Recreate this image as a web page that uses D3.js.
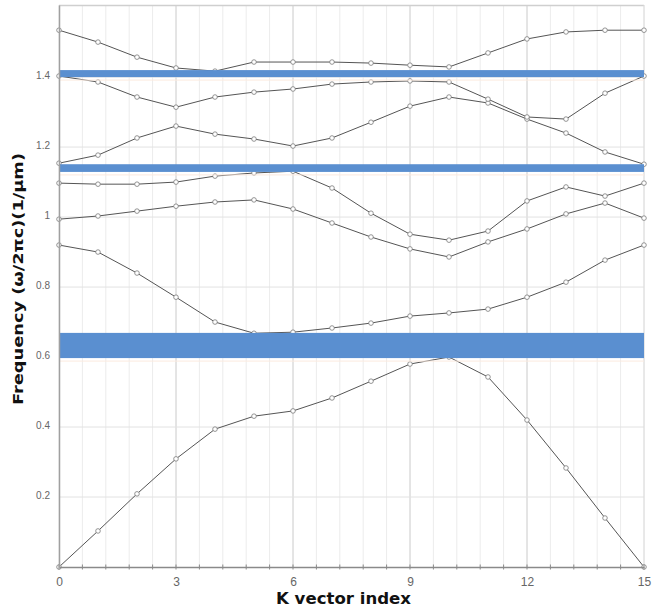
<!DOCTYPE html>
<html>
<head>
<meta charset="utf-8">
<script src="https://cdn.jsdelivr.net/npm/d3@7"></script>
<style>
  body { margin: 0; background: #fff; }
  svg { display: block; }
</style>
</head>
<body>
<div class="chart"></div>
<script>
// k vector index along the path
const kIndex = [0, 1, 2, 3, 4, 5, 6, 7, 8, 9, 10, 11, 12, 13, 14, 15];

// photonic bands, frequency (w/2pi c)(1/um)
const band1 = [0, 0.103, 0.209, 0.309, 0.394, 0.431, 0.446, 0.483, 0.531, 0.58, 0.60, 0.543, 0.42, 0.283, 0.14, 0];
const band2 = [0.92, 0.90, 0.84, 0.771, 0.70, 0.668, 0.671, 0.683, 0.697, 0.717, 0.726, 0.737, 0.771, 0.814, 0.877, 0.92];
const band3 = [0.994, 1.003, 1.017, 1.031, 1.043, 1.049, 1.023, 0.983, 0.943, 0.909, 0.886, 0.929, 0.966, 1.009, 1.04, 0.997];
const band4 = [1.097, 1.094, 1.094, 1.1, 1.117, 1.126, 1.131, 1.083, 1.011, 0.951, 0.934, 0.96, 1.046, 1.086, 1.06, 1.097];
const band5 = [1.154, 1.177, 1.226, 1.26, 1.237, 1.223, 1.203, 1.226, 1.271, 1.317, 1.343, 1.326, 1.28, 1.24, 1.186, 1.151];
const band6 = [1.403, 1.386, 1.343, 1.314, 1.343, 1.357, 1.366, 1.38, 1.386, 1.389, 1.386, 1.337, 1.286, 1.28, 1.354, 1.403];
const band7 = [1.534, 1.5, 1.457, 1.426, 1.417, 1.443, 1.443, 1.443, 1.44, 1.434, 1.429, 1.469, 1.509, 1.529, 1.534, 1.534];

// band gaps (blue strips)
const gapBottom = [0.597, 1.129, 1.40];
const gapTop = [0.669, 1.151, 1.42];

const xTicks = [0, 3, 6, 9, 12, 15];
const yTicks = [0.2, 0.4, 0.6, 0.8, 1, 1.2, 1.4];

const bands = [band1, band2, band3, band4, band5, band6, band7];

const margin = ({top: 5, right: 18, bottom: 49, left: 59});
const width = 662 - margin.left - margin.right, height = 616 - margin.top - margin.bottom;

var svg = d3.select('.chart')
            .append('svg')
            .attr('width', width + margin.left + margin.right)
            .attr('height', height + margin.top + margin.bottom)
            .append('g')
            .attr('transform', 'translate(' + margin.left + ',' + margin.top + ')');

const xScale = d3.scaleLinear()
                 .domain([0, 15])
                 .range([0, width]);

const yScale = d3.scaleLinear()
                 .domain([0, 1.606])
                 .range([height, 0]);

// minor vertical grid every 0.6
const minorX = d3.range(0, 26).map(i => i * 0.6);

svg.append('g')
   .selectAll('line')
   .data(minorX)
   .enter()
   .append('line')
   .attr('x1', d => xScale(d)).attr('x2', d => xScale(d))
   .attr('y1', 0).attr('y2', height)
   .attr('stroke', '#ececec')
   .attr('stroke-width', 1);

svg.append('g')
   .selectAll('line')
   .data(xTicks.slice(1, -1))
   .enter()
   .append('line')
   .attr('x1', d => xScale(d)).attr('x2', d => xScale(d))
   .attr('y1', 0).attr('y2', height)
   .attr('stroke', '#d4d4d4')
   .attr('stroke-width', 1);

svg.append('g')
   .selectAll('line')
   .data(yTicks)
   .enter()
   .append('line')
   .attr('x1', 0).attr('x2', width)
   .attr('y1', d => yScale(d)).attr('y2', d => yScale(d))
   .attr('stroke', '#e2e2e2')
   .attr('stroke-width', 1);

// frame top / right
svg.append('line').attr('x1', 0).attr('x2', width).attr('y1', 0.5).attr('y2', 0.5)
   .attr('stroke', '#cfcfcf').attr('stroke-width', 1.5);
svg.append('line').attr('x1', width).attr('x2', width).attr('y1', 0).attr('y2', height)
   .attr('stroke', '#dcdcdc');

// band lines
const line = d3.line()
               .x((d, i) => xScale(kIndex[i]))
               .y(d => yScale(d));

svg.append('g')
   .selectAll('path')
   .data(bands)
   .enter()
   .append('path')
   .attr('d', line)
   .attr('fill', 'none')
   .attr('stroke', '#555')
   .attr('stroke-width', 1);

bands.forEach(b => {
    svg.append('g')
       .selectAll('circle')
       .data(b)
       .enter()
       .append('circle')
       .attr('cx', (d, i) => xScale(kIndex[i]))
       .attr('cy', d => yScale(d))
       .attr('r', 2.3)
       .attr('fill', '#fff')
       .attr('stroke', '#7a7a7a')
       .attr('stroke-width', 0.8);
});

// gap strips, drawn over the bands
svg.append('g')
   .selectAll('line')
   .data(gapBottom)
   .enter()
   .append('line')
   .attr('x1', 0).attr('x2', width)
   .attr('y1', d => yScale(d) + 3).attr('y2', d => yScale(d) + 3)
   .attr('stroke', '#fbeadf')
   .attr('stroke-width', 1);

svg.append('g')
   .selectAll('rect')
   .data(gapBottom)
   .enter()
   .append('rect')
   .attr('x', 0)
   .attr('width', width)
   .attr('y', (d, i) => yScale(gapTop[i]))
   .attr('height', (d, i) => yScale(d) - yScale(gapTop[i]))
   .attr('fill', '#5a8fd0');

// axes
const xAxis = d3.axisBottom(xScale)
                .tickValues(xTicks)
                .tickSize(0)
                .tickPadding(10)
                .tickFormat(d => String(d));

const gx = svg.append('g')
              .attr('transform', `translate(0, ${height})`)
              .call(xAxis);
gx.select('.domain').attr('stroke', '#8a8a8a').attr('stroke-width', 1.5);
gx.selectAll('text').attr('font-family', 'Liberation Sans, Arial, sans-serif')
  .attr('font-size', 12).attr('fill', '#666');

gx.selectAll('.minor')
  .data(minorX)
  .enter()
  .append('line')
  .attr('class', 'minor')
  .attr('x1', d => xScale(d)).attr('x2', d => xScale(d))
  .attr('y1', -2.5).attr('y2', 2.5)
  .attr('stroke', '#8a8a8a');

const yAxis = d3.axisLeft(yScale)
                .tickValues(yTicks)
                .tickSize(0)
                .tickPadding(9)
                .tickFormat(d => String(d));

const gy = svg.append('g').call(yAxis);
gy.select('.domain').attr('stroke', '#a0a0a0').attr('stroke-width', 1.5);
gy.selectAll('text').attr('font-family', 'Liberation Sans, Arial, sans-serif')
  .attr('font-size', 10).attr('fill', '#666').attr('dy', '0.1em');

// titles
svg.append('text')
   .attr('x', xScale(7.5) - 8)
   .attr('y', height + 37)
   .attr('text-anchor', 'middle')
   .attr('font-family', 'DejaVu Sans, sans-serif')
   .attr('font-weight', 'bold')
   .attr('font-size', 15)
   .attr('textLength', 135)
   .attr('lengthAdjust', 'spacingAndGlyphs')
   .attr('fill', '#111')
   .text('K vector index');

svg.append('text')
   .attr('transform', `translate(${-36}, ${279 - margin.top}) rotate(-90)`)
   .attr('text-anchor', 'middle')
   .attr('font-family', 'DejaVu Sans, sans-serif')
   .attr('font-weight', 'bold')
   .attr('font-size', 14)
   .attr('textLength', 252)
   .attr('lengthAdjust', 'spacingAndGlyphs')
   .attr('fill', '#111')
   .text('Frequency (\u03c9/2\u03c0c)(1/\u03bcm)');
</script>
</body>
</html>
